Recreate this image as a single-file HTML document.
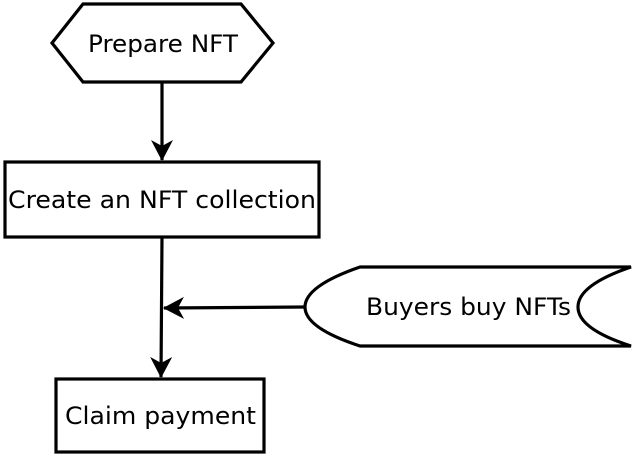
<!DOCTYPE html>
<html><head><meta charset="utf-8"><style>
html,body{margin:0;padding:0;background:#fff;}
svg{display:block;}
</style></head><body>
<svg width="643" height="454" viewBox="0 0 643 454" xmlns="http://www.w3.org/2000/svg">
<defs>
<marker id="a" markerWidth="24" markerHeight="24" refX="20" refY="11" orient="auto" markerUnits="userSpaceOnUse">
<path d="M0,0 L21,11 L0,22 L6,11 Z" fill="#000"/>
</marker>
</defs>
<g fill="none" stroke="#000" stroke-width="3.2">
<polygon points="52,43 83,4 241,4 273,43 241,82 83,82"/>
<rect x="5" y="162" width="314" height="75"/>
<rect x="56" y="379" width="208" height="73"/>
<path d="M360,267 L631,267 Q578,285 578,307 Q578,329 631,346 L360,346 Q305,328 305,307 Q305,286 360,267 Z"/>
<line x1="162" y1="82" x2="162" y2="160" marker-end="url(#a)"/>
<line x1="162" y1="237" x2="161" y2="377" marker-end="url(#a)"/>
<line x1="305" y1="307" x2="164" y2="308" marker-end="url(#a)"/>
</g>
<g font-family="DejaVu Sans, Liberation Sans, sans-serif" font-size="24" fill="#000">
<text x="88" y="52" textLength="150" lengthAdjust="spacingAndGlyphs">Prepare NFT</text>
<text x="8" y="208" textLength="308" lengthAdjust="spacingAndGlyphs">Create an NFT collection</text>
<text x="65" y="424" textLength="191" lengthAdjust="spacingAndGlyphs">Claim payment</text>
<text x="366" y="315" textLength="205" lengthAdjust="spacingAndGlyphs">Buyers buy NFTs</text>
</g>
</svg>
</body></html>
